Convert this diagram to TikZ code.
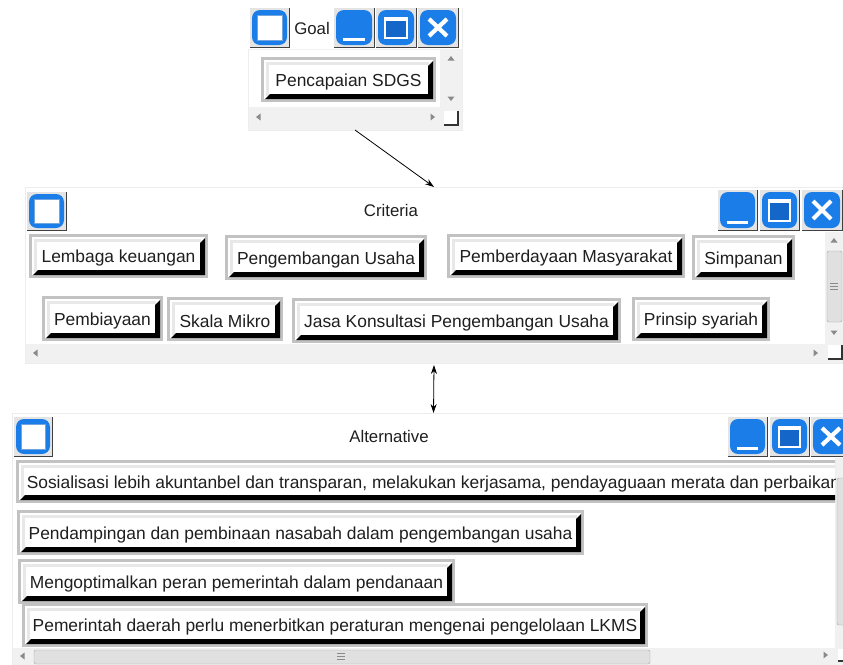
\documentclass[tikz,border=0pt]{standalone}
\usepackage{fontspec}
\setmainfont{Liberation Sans}
\definecolor{blueicon}{HTML}{1B7DE8}
\definecolor{bluedeep}{HTML}{1467C8}
\definecolor{framegray}{HTML}{C2C2C2}
\definecolor{lightframe}{HTML}{E8E8E8}
\definecolor{barbg}{HTML}{F1F1F1}
\definecolor{edgeg}{HTML}{EDEDED}
\definecolor{btnbg}{HTML}{E4E4E4}
\definecolor{arrowg}{HTML}{8A8A8A}
\definecolor{thumbg}{HTML}{E0E0E0}
\usetikzlibrary{arrows.meta}
\tikzset{
  winbox/.style={draw=edgeg,line width=1pt,fill=barbg,inner sep=0pt,outer sep=0pt},
  btntext/.style={inner sep=0pt,text=black!88,font=\fontsize{17.4}{20}\selectfont},
  titletext/.style={inner sep=0pt,text=black!88,font=\fontsize{16.8}{20}\selectfont},
  connector/.style={draw=black,line width=0.8pt,-{Stealth[length=9pt,width=6pt]}},
  biconnector/.style={draw=black,line width=0.8pt,{Stealth[length=9pt,width=6pt]}-{Stealth[length=9pt,width=6pt]}},
}
% framed text button: name, x0, y0, x1, y1, text
\newcommand{\wbtn}[6]{%
  \fill[framegray] (#2,#3) rectangle (#4,#5);
  \fill[white] (#2+3,#3+3) rectangle (#4-3,#5-3);
  \fill[lightframe] (#2+5,#3+5) rectangle (#4-7,#5-6);
  \fill[black] (#4-3,#3+4) -- (#4-3,#5-3) -- (#2+4,#5-3) -- (#2+9,#5-8) -- (#4-8,#5-8) -- (#4-8,#3+9) -- cycle;
  \fill[white] (#2+8,#3+8) rectangle (#4-8,#5-8);
  \node[btntext] (#1) at ({(#2+#4)/2},{(#3+#5)/2+2}) {#6};
}
% title-bar button body
\newcommand{\tbody}[4]{%
  \fill[btnbg] (#1,#2) rectangle (#3,#4);
  \draw[black!75,line width=1pt] (#1,#4) -- (#3,#4) -- (#3,#2);
  \fill[blueicon,rounded corners=8pt] (#1+2,#2+2) rectangle (#3-2,#4-2);
}
\newcommand{\tsys}[4]{\tbody{#1}{#2}{#3}{#4}%
  \fill[white,draw=bluedeep!60,line width=.6pt] (#1+7,#2+7) rectangle (#3-7,#4-7);}
\newcommand{\tmin}[4]{\tbody{#1}{#2}{#3}{#4}%
  \fill[white] (#1+9,#4-9) rectangle (#3-9,#4-6.5);}
\newcommand{\tmax}[4]{\tbody{#1}{#2}{#3}{#4}%
  \draw[white,line width=1.8pt,fill=bluedeep] (#1+9,#2+10) rectangle (#3-9,#4-9);
  \fill[white] (#1+9,#2+9) rectangle (#3-9,#2+13);}
\newcommand{\tcls}[4]{\tbody{#1}{#2}{#3}{#4}%
  \draw[white,line width=4.2pt] (#1+11,#2+11) -- (#3-11,#4-11) (#3-11,#2+11) -- (#1+11,#4-11);}
% small scrollbar arrows
\newcommand{\aup}[2]{\fill[arrowg] (#1-3.5,#2+2.5) -- (#1+3.5,#2+2.5) -- (#1,#2-2) -- cycle;}
\newcommand{\adn}[2]{\fill[arrowg] (#1-3.5,#2-2.5) -- (#1+3.5,#2-2.5) -- (#1,#2+2) -- cycle;}
\newcommand{\alf}[2]{\fill[arrowg] (#1+2.5,#2-3.5) -- (#1+2.5,#2+3.5) -- (#1-2,#2) -- cycle;}
\newcommand{\art}[2]{\fill[arrowg] (#1-2.5,#2-3.5) -- (#1-2.5,#2+3.5) -- (#1+2,#2) -- cycle;}
% resize grip
\newcommand{\grip}[2]{\fill[white] (#1,#2) rectangle (#1+14,#2+14);
  \draw[black!80,line width=1.2pt] (#1,#2+14) -- (#1+14,#2+14) -- (#1+14,#2);}
\newcommand{\gripdots}[2]{\draw[arrowg,line width=.6pt] (#1-4,#2-3) -- (#1+4,#2-3) (#1-4,#2) -- (#1+4,#2) (#1-4,#2+3) -- (#1+4,#2+3);}
\begin{document}
\begin{tikzpicture}[x=1pt,y=-1pt]
\useasboundingbox (0,0) rectangle (843,664);
\fill[white] (0,0) rectangle (843,664);

%--- Goal window
\node[winbox,minimum width=214pt,minimum height=122pt] (goalwin) at (355,69) {};
\fill[white] (248,8) rectangle (462,49);
\fill[white] (249,50) rectangle (440,107);
\tsys{250}{8}{289}{47}
\node[titletext] (goaltitle) at (312,28) {Goal};
\tmin{334}{8}{374}{47}
\tmax{376}{8}{416}{47}
\tcls{418}{8}{458}{47}
\wbtn{pencapaian}{261}{57}{436}{102}{Pencapaian SDGS}
\aup{451}{58}
\adn{451}{99}
\alf{258}{117}
\art{433}{117}
\grip{444}{111}

%--- Criteria window
\node[winbox,minimum width=818pt,minimum height=176pt] (critwin) at (434,275) {};
\fill[white] (26,188) rectangle (842,232);
\fill[white] (26,232) rectangle (825,344);
\tsys{27}{192}{66}{230}
\node[titletext] (crittitle) at (391,210) {Criteria};
\tmin{718}{190}{757}{230}
\tmax{760}{190}{799}{230}
\tcls{802}{190}{842}{230}
\wbtn{lembaga}{29}{234}{208}{278}{Lembaga keuangan}
\wbtn{pengembangan}{225}{235}{427}{280}{Pengembangan Usaha}
\wbtn{pemberdayaan}{447}{234}{685}{278}{Pemberdayaan Masyarakat}
\wbtn{simpanan}{692}{235}{795}{280}{Simpanan}
\wbtn{pembiayaan}{42}{296}{163}{341}{Pembiayaan}
\wbtn{skala}{167}{297}{283}{341}{Skala Mikro}
\wbtn{jasa}{292}{298}{621}{343}{Jasa Konsultasi Pengembangan Usaha}
\wbtn{prinsip}{632}{297}{770}{341}{Prinsip syariah}
\fill[thumbg,draw=black!35,rounded corners=2pt] (827,251) rectangle (842,322);
\gripdots{834}{286}
\aup{834}{240}
\adn{834}{333}
\alf{35}{353}
\art{816}{353}
\grip{828}{345}

%--- Alternative window
\begin{scope}
\clip (0,400) rectangle (843,664);
\node[winbox,minimum width=831pt,minimum height=252pt] (altwin) at (427.5,539) {};
\fill[white] (13,414) rectangle (843,458);
\fill[white] (13,458) rectangle (835,648);
\tsys{14}{417}{52}{456}
\node[titletext] (alttitle) at (389,436) {Alternative};
\tmin{728}{417}{767}{456}
\tmax{770}{417}{809}{456}
\tcls{811}{417}{851}{456}
\begin{scope}
\clip (0,458) rectangle (835,510);
\wbtn{sosialisasi}{16}{460}{851}{503}{Sosialisasi lebih akuntanbel dan transparan, melakukan kerjasama, pendayaguaan merata dan perbaikan}
\end{scope}
\wbtn{pendampingan}{17}{510}{584}{555}{Pendampingan dan pembinaan nasabah dalam pengembangan usaha}
\wbtn{mengoptimalkan}{18}{559}{455}{604}{Mengoptimalkan peran pemerintah dalam pendanaan}
\wbtn{pemerintah}{22}{603}{648}{647}{Pemerintah daerah perlu menerbitkan peraturan mengenai pengelolaan LKMS}
\fill[thumbg,draw=black!35,rounded corners=2pt] (837,478) rectangle (850,625);
\fill[thumbg,draw=black!35,rounded corners=2pt] (34,650) rectangle (650,664);
\gripdots{341}{656}
\alf{22}{656}
\art{826}{655}
\fill[white] (838,649) rectangle (843,661);
\draw[black!80,line width=1.2pt] (838,661) -- (843,661);
\end{scope}

%--- connectors
\coordinate (altin) at ([xshift=6pt]altwin.north);
\draw[connector] (goalwin.south) -- (critwin.north);
\draw[biconnector] ([yshift=-2pt]critwin.south) -- (altin);
\end{tikzpicture}
\end{document}
